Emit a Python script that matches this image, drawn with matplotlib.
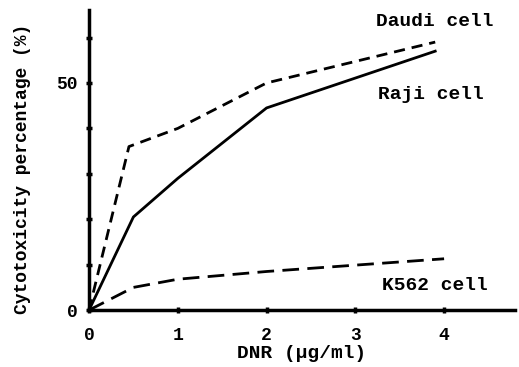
import matplotlib.pyplot as plt

# Daten
daudi_x = [0, 0.45, 1.0, 2.0, 3.9]
daudi_y = [0, 36, 40, 50, 59]

raji_x = [0, 0.5, 1.0, 2.0, 3.9]
raji_y = [0, 20.5, 29, 44.5, 57]

k562_x = [0, 0.5, 1.0, 2.0, 4.0]
k562_y = [0, 5, 6.8, 8.5, 11.3]

x_ticks = [0, 1, 2, 3, 4]
y_ticks = [0, 10, 20, 30, 40, 50, 60]
y_labels = ["0", "", "", "", "", "50", ""]

mono = "Liberation Mono"

fig = plt.figure(figsize=(5.19, 3.67), dpi=100)
ax = fig.add_axes([0.1715, 0.155, 0.821, 0.817])

ax.plot(daudi_x, daudi_y, color="black", lw=2.0, dashes=(4, 2.5))
ax.plot(raji_x, raji_y, color="black", lw=2.0)
ax.plot(k562_x, k562_y, color="black", lw=2.0, dashes=(6, 3))

ax.text(3.23, 62.5, "Daudi cell", family=mono, weight="bold", fontsize=14)
ax.text(3.25, 46.5, "Raji cell", family=mono, weight="bold", fontsize=14)
ax.text(3.3, 4.5, "K562 cell", family=mono, weight="bold", fontsize=14)

ax.set_xlim(0, 4.8)
ax.set_ylim(0, 66)
ax.set_xticks(x_ticks)
ax.set_xticklabels([str(t) for t in x_ticks], family=mono, weight="bold", fontsize=13)
ax.set_yticks(y_ticks)
ax.set_yticklabels(y_labels, family=mono, weight="bold", fontsize=13)
ax.tick_params(direction="inout", length=4, width=2.5)
ax.tick_params(axis="x", pad=10)
ax.tick_params(axis="y", pad=6)

ax.set_xlabel("DNR (\u00b5g/ml)", family=mono, weight="bold", fontsize=14, labelpad=1)
ax.set_ylabel("Cytotoxicity percentage (%)", family=mono, weight="bold", fontsize=13)
ax.yaxis.set_label_coords(-0.135, 0.47)

for s in ["top", "right"]:
    ax.spines[s].set_visible(False)
for s in ["left", "bottom"]:
    ax.spines[s].set_linewidth(2.5)

fig.savefig("out.png", dpi=100)
